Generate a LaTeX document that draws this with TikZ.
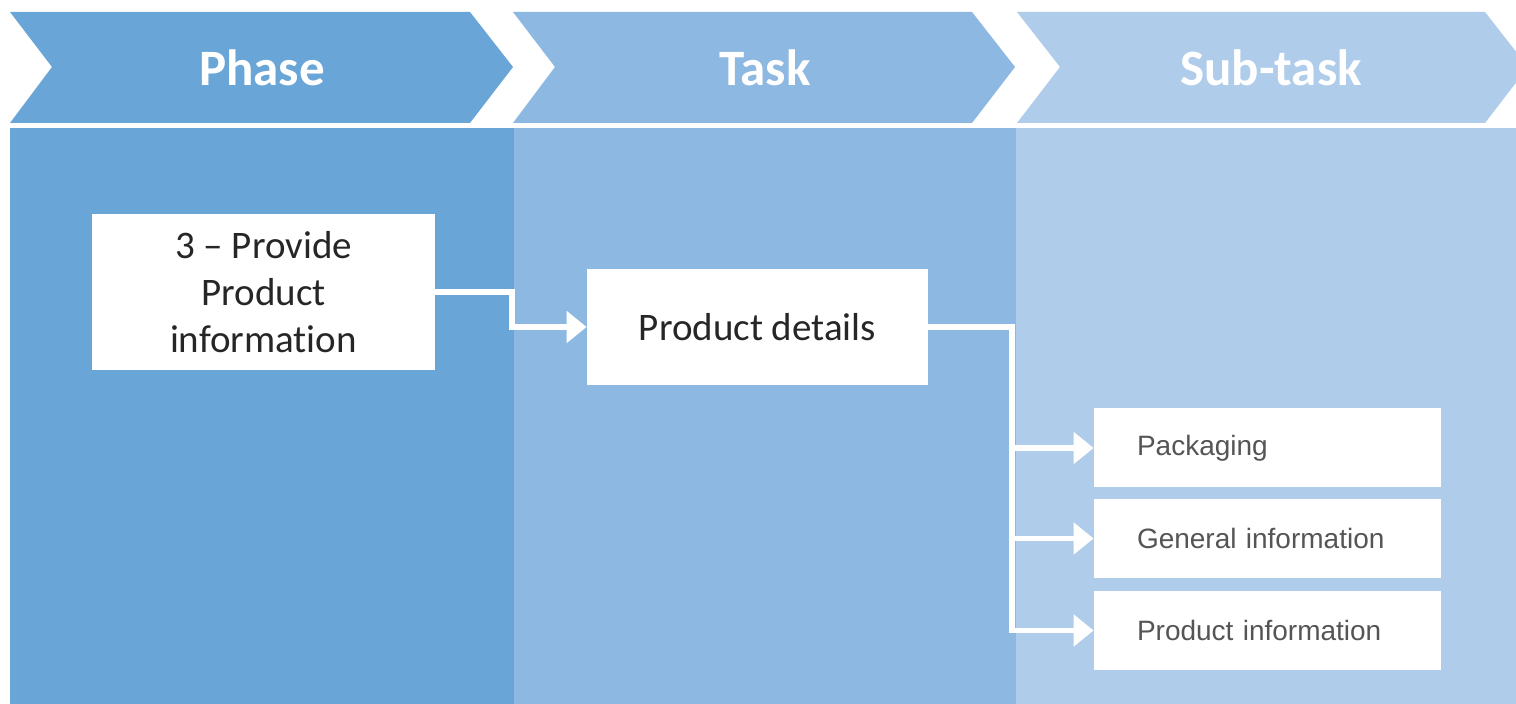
\documentclass[tikz,border=0pt]{standalone}
\usepackage{fontspec}
\setmainfont{Carlito}[Ligatures={NoCommon}]
\newfontfamily\subfont{Liberation Sans}
\usetikzlibrary{arrows.meta}
\definecolor{phasecol}{HTML}{69A5D6}
\definecolor{taskcol}{HTML}{8DB8E1}
\definecolor{subcol}{HTML}{AFCDEA}
\definecolor{boxtext}{HTML}{262626}
\definecolor{subtext}{HTML}{555555}
\tikzset{
  header/.style={text=white, font=\fontsize{25.5}{30}\selectfont\bfseries},
  mainbox/.style={fill=white, draw=none, text=boxtext, align=center,
    font=\fontsize{19.5}{23.5}\selectfont},
  subbox/.style={fill=white, draw=none, text=subtext, align=left,
    font=\subfont\fontsize{14}{17}\selectfont, text width=130.5pt,
    inner xsep=21.5pt, minimum height=39.5pt},
  conn/.style={draw=white, line width=2.7pt, -{Triangle[length=10pt,width=15.5pt]}},
}
\begin{document}
\begin{tikzpicture}[x=0.5pt,y=-0.5pt]
\useasboundingbox (0,0) rectangle (1516,704);
\clip (0,0) rectangle (1516,704);
\fill[white] (0,0) rectangle (1516,704);
% columns
\fill[phasecol] (10,128) rectangle (514,704);
\fill[taskcol] (514,128) rectangle (1016,704);
\fill[subcol] (1016,128) rectangle (1516,704);
% chevrons
\fill[phasecol] (10,12) -- (470,12) -- (513,67) -- (470,123) -- (10,123) -- (52,67) -- cycle;
\fill[taskcol] (513,12) -- (972,12) -- (1015,67) -- (972,123) -- (513,123) -- (555,67) -- cycle;
\fill[subcol] (1017,12) -- (1485,12) -- (1528,67) -- (1485,123) -- (1017,123) -- (1060,67) -- cycle;
\node[header] (h1) at (262,68) {Phase};
\node[header] (h2) at (765,68) {Task};
\node[header] (h3) at (1271,68) {Sub-task};
% boxes
\node[mainbox, minimum width=171.5pt, minimum height=78pt] (b1) at (263.5,292)
  {3 -- Provide\\Product\\information};
\node[mainbox, minimum width=170.5pt, minimum height=58pt] (b2) at (757.5,327)
  {Product details};
\node[subbox] (s1) at (1267.5,448) {Packaging};
\node[subbox] (s2) at (1267.5,538.5) {General information};
\node[subbox] (s3) at (1267.5,630.5) {Product information};
% connectors
\coordinate (j1) at (512,292);
\draw[conn] (b1.east) -- (j1) |- (b2.west);
\coordinate (j2) at (1012,327);
\draw[conn] (b2.east) -- (j2) |- (s3.west);
\draw[conn] (j2 |- s1.west) -- (s1.west);
\draw[conn] (j2 |- s2.west) -- (s2.west);
\end{tikzpicture}
\end{document}
